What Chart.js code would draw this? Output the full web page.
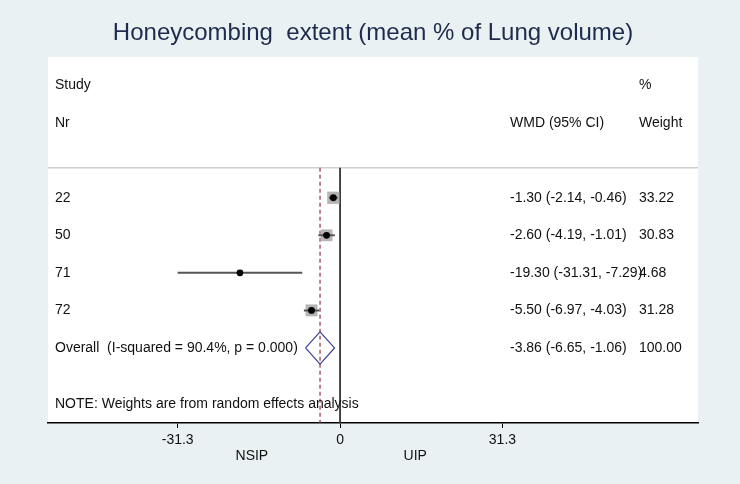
<!DOCTYPE html>
<html>
<head>
<meta charset="utf-8">
<script src="https://cdn.jsdelivr.net/npm/chart.js@4.4.1/dist/chart.umd.min.js"></script>
<style>
  html, body { margin: 0; padding: 0; background: #e9f1f3; }
  #wrap { width: 740px; height: 484px; }
</style>
</head>
<body>
<div id="wrap"><canvas id="forest"></canvas></div>
<script>
// data
const studies = ["22", "50", "71", "72"];
const wmd = [-1.30, -2.60, -19.30, -5.50];
const ciLow = [-2.14, -4.19, -31.31, -6.97];
const ciHigh = [-0.46, -1.01, -7.29, -4.03];
const weights = [33.22, 30.83, 4.68, 31.28];
const overallEst = -3.86;
const overallLow = -6.65;
const overallHigh = -1.06;
const overallWeight = 100.0;
const overallLabel = "Overall  (I-squared = 90.4%, p = 0.000)";
const tickValues = [-31.3, 0, 31.3];
const sideLabels = ["NSIP", "UIP"];

const firstRow = 3;
const overallRow = firstRow + studies.length;
const topRule = 2.2;
const FONT = "Liberation Sans, Arial, sans-serif";

const ciLines = [];
studies.forEach((s, i) => {
  ciLines.push({ x: ciLow[i], y: firstRow + i });
  ciLines.push({ x: ciHigh[i], y: firstRow + i });
  ciLines.push({ x: null, y: null });
});

const diamond = [
  { x: overallLow, y: overallRow },
  { x: overallEst, y: overallRow - 0.43 },
  { x: overallHigh, y: overallRow },
  { x: overallEst, y: overallRow + 0.43 },
  { x: overallLow, y: overallRow }
];

const fmt = v => v.toFixed(2);

const forestText = {
  id: "forestText",
  beforeDraw(chart) {
    const { ctx, chartArea: a, scales: { y } } = chart;
    ctx.save();
    ctx.fillStyle = "#ffffff";
    ctx.fillRect(a.left, a.top, a.right - a.left, a.bottom - a.top);
    ctx.strokeStyle = "#cfcfcf";
    ctx.lineWidth = 1.5;
    ctx.beginPath();
    ctx.moveTo(a.left, y.getPixelForValue(topRule));
    ctx.lineTo(a.right, y.getPixelForValue(topRule));
    ctx.stroke();
    ctx.restore();
  },
  afterDatasetsDraw(chart) {
    const { ctx, chartArea: a, scales: { x, y } } = chart;
    const left = a.left + 7;
    const colCI = a.left + 462;
    const colW = a.left + 591;
    ctx.save();
    ctx.fillStyle = "#111111";
    ctx.font = "14px " + FONT;
    ctx.textBaseline = "middle";
    ctx.textAlign = "left";
    ctx.fillText("Study", left, y.getPixelForValue(0));
    ctx.fillText("Nr", left, y.getPixelForValue(1));
    ctx.fillText("%", colW, y.getPixelForValue(0));
    ctx.fillText("Weight", colW, y.getPixelForValue(1));
    ctx.fillText("WMD (95% CI)", colCI, y.getPixelForValue(1));
    studies.forEach((s, i) => {
      const py = y.getPixelForValue(firstRow + i);
      ctx.fillText(s, left, py);
      ctx.fillText(fmt(wmd[i]) + " (" + fmt(ciLow[i]) + ", " + fmt(ciHigh[i]) + ")", colCI, py);
      ctx.fillText(fmt(weights[i]), colW, py);
    });
    const po = y.getPixelForValue(overallRow);
    ctx.fillText(overallLabel, left, po);
    ctx.fillText(fmt(overallEst) + " (" + fmt(overallLow) + ", " + fmt(overallHigh) + ")", colCI, po);
    ctx.fillText(fmt(overallWeight), colW, po);
    ctx.fillText("NOTE: Weights are from random effects analysis", left, y.getPixelForValue(overallRow + 1.5));
    ctx.textAlign = "center";
    ctx.fillText(sideLabels[0], x.getPixelForValue(-17), a.bottom + 33);
    ctx.fillText(sideLabels[1], x.getPixelForValue(14.5), a.bottom + 33);
    ctx.restore();
  }
};

new Chart(document.getElementById("forest"), {
  type: "scatter",
  data: {
    datasets: [
      {
        label: "estimate",
        data: wmd.map((v, i) => ({ x: v, y: firstRow + i })),
        pointStyle: "circle",
        pointRadius: 3.4,
        backgroundColor: "#000000",
        borderWidth: 0
      },
      {
        label: "ci",
        data: ciLines,
        showLine: true,
        spanGaps: false,
        pointRadius: 0,
        borderColor: "#555555",
        borderWidth: 2
      },
      {
        label: "weight",
        data: wmd.map((v, i) => ({ x: v, y: firstRow + i })),
        pointStyle: "rect",
        pointRadius: weights.map(w => 1.5 * Math.sqrt(w)),
        backgroundColor: "#b4b4b4",
        borderWidth: 0
      },
      {
        label: "overall",
        data: diamond,
        showLine: true,
        pointRadius: 0,
        borderColor: "#3b3f8f",
        borderWidth: 1.2,
        tension: 0
      },
      {
        label: "pooled",
        data: [{ x: overallEst, y: topRule }, { x: overallEst, y: 9.2 }],
        showLine: true,
        pointRadius: 0,
        borderColor: "#8e3444",
        borderWidth: 1.2,
        borderDash: [4, 3]
      },
      {
        label: "null",
        data: [{ x: 0, y: topRule }, { x: 0, y: 9.2 }],
        showLine: true,
        pointRadius: 0,
        borderColor: "#333333",
        borderWidth: 1.8
      }
    ]
  },
  options: {
    responsive: true,
    maintainAspectRatio: false,
    animation: false,
    layout: { padding: { left: 48, right: 42, top: 0, bottom: 0 } },
    plugins: {
      legend: { display: false },
      tooltip: { enabled: false },
      title: {
        display: true,
        text: "Honeycombing  extent (mean % of Lung volume)",
        color: "#1e2b4d",
        font: { family: FONT, size: 24, weight: "normal" },
        padding: { top: 18.5, bottom: 9.7 }
      }
    },
    scales: {
      x: {
        type: "linear",
        min: -56.3,
        max: 69.0,
        afterBuildTicks(scale) {
          scale.ticks = tickValues.map(v => ({ value: v }));
        },
        afterFit(scale) { scale.height = 61; },
        grid: { drawOnChartArea: false, drawTicks: true, tickLength: 5, color: "#000000" },
        border: { color: "#000000", width: 1.5 },
        ticks: {
          color: "#111111",
          padding: 4,
          font: { family: FONT, size: 14 },
          callback: v => (v === 0 ? "0" : v.toFixed(1))
        }
      },
      y: {
        type: "linear",
        reverse: true,
        min: -0.75,
        max: 9.0,
        display: false
      }
    }
  },
  plugins: [forestText]
});
</script>
</body>
</html>
